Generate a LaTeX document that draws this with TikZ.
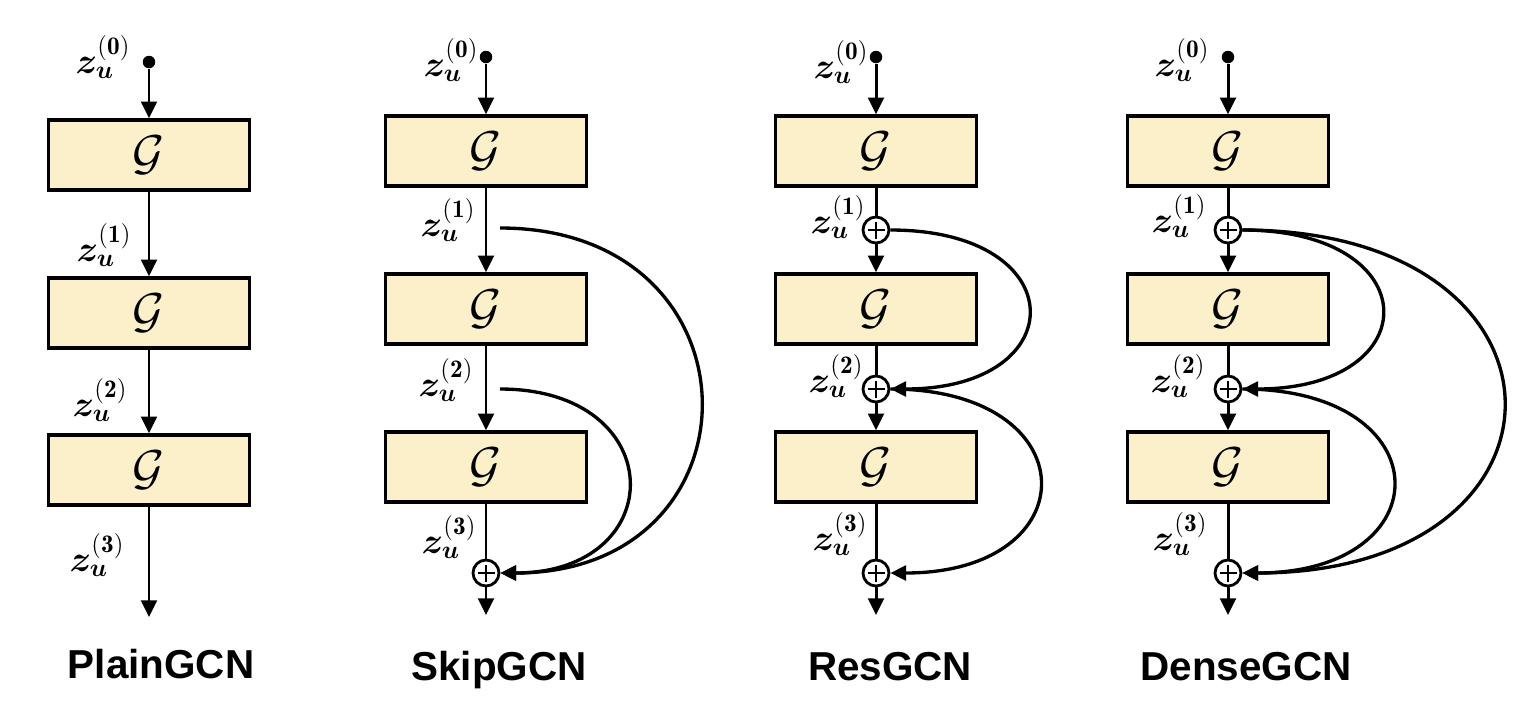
\documentclass[tikz,border=0pt]{standalone}
\usepackage{amsmath}
\usepackage{bm}
\usepackage{graphicx}
\usepackage{fontspec}
\newfontfamily\headfont{Liberation Sans}
\usepackage{tikz}
\usetikzlibrary{arrows.meta}
\definecolor{boxfill}{HTML}{FCF0CA}
\newcommand{\gop}{\scalebox{1.12}{$\mathcal{G}$}}
\newcommand{\zu}[1]{$\bm{z}_{\bm{u}}^{(\mathbf{#1})}$}
\tikzset{
  gbox/.style={draw, line width=2pt, fill=boxfill, minimum width=4.02cm, minimum height=1.40cm, inner sep=0pt, font=\Huge},
  addop/.style={circle, draw, line width=1.6pt, fill=white, minimum size=0.52cm, inner sep=0pt,
    path picture={\draw[line width=1.5pt] ([xshift=-0.17cm]path picture bounding box.center) -- ([xshift=0.17cm]path picture bounding box.center) ([yshift=-0.17cm]path picture bounding box.center) -- ([yshift=0.17cm]path picture bounding box.center);}},
  indot/.style={circle, fill=black, minimum size=0.25cm, inner sep=0pt},
  zlab/.style={inner sep=0pt, font=\huge},
  headlab/.style={anchor=base, inner sep=0pt, font=\headfont\bfseries\fontsize{23}{26}\selectfont},
  plain/.style={line width=1.7pt},
  flow/.style={line width=1.7pt, -{Triangle[length=9.5pt, width=9pt]}},
  jump/.style={line width=1.9pt, -{Triangle[length=9pt, width=8.5pt]}}
}
\begin{document}
\begin{tikzpicture}[x=0.02cm, y=-0.02cm]
\useasboundingbox (0,0) rectangle (1526,704);

\node[indot] (p0) at (149,62) {};
\node[gbox] (p1) at (149,155) {\gop};
\node[gbox] (p2) at (149,313) {\gop};
\node[gbox] (p3) at (149,470) {\gop};
\coordinate (pout) at (149,617);
\draw[flow] (p0) -- (p1);
\draw[flow] (p1) -- (p2);
\draw[flow] (p2) -- (p3);
\draw[flow] (p3) -- (pout);
\node[zlab] (pz0) at (103,57) {\zu{0}};
\node[zlab] (pz1) at (104,245) {\zu{1}};
\node[zlab] (pz2) at (100,400) {\zu{2}};
\node[zlab] (pz3) at (97,555) {\zu{3}};
\node[headlab] (ptitle) at (161,678) {PlainGCN};

\node[indot] (s0) at (486,57) {};
\node[gbox] (s1) at (486,151) {\gop};
\node[gbox] (s2) at (486,309) {\gop};
\node[gbox] (s3) at (486,467) {\gop};
\node[addop] (sadd) at (486,573) {};
\coordinate (sout) at (486,615);
\coordinate (sk1) at (500,228);
\coordinate (sk2) at (500,389);
\draw[flow] (s0) -- (s1);
\draw[flow] (s1) -- (s2);
\draw[flow] (s2) -- (s3);
\draw[plain] (s3) -- (sadd);
\draw[flow] (sadd) -- (sout);
\draw[jump] (sk1) to[out=0, in=0, distance=5.34cm] (sadd.east);
\draw[jump] (sk2) to[out=0, in=0, distance=3.42cm] (sadd.east);
\node[zlab] (sz0) at (451,60) {\zu{0}};
\node[zlab] (sz1) at (448,220) {\zu{1}};
\node[zlab] (sz2) at (446,380) {\zu{2}};
\node[zlab] (sz3) at (449,537) {\zu{3}};
\node[headlab] (stitle) at (499,680) {SkipGCN};

\node[indot] (r0) at (876,57) {};
\node[gbox] (r1) at (876,151) {\gop};
\node[addop] (radd1) at (876,230) {};
\node[gbox] (r2) at (876,309) {\gop};
\node[addop] (radd2) at (876,389) {};
\node[gbox] (r3) at (876,467) {\gop};
\node[addop] (radd3) at (876,573) {};
\coordinate (rout) at (876,615);
\draw[flow] (r0) -- (r1);
\draw[plain] (r1) -- (radd1);
\draw[flow] (radd1) -- (r2);
\draw[plain] (r2) -- (radd2);
\draw[flow] (radd2) -- (r3);
\draw[plain] (r3) -- (radd3);
\draw[flow] (radd3) -- (rout);
\draw[jump] (radd1.east) to[out=0, in=0, distance=3.68cm] (radd2.east);
\draw[jump] (radd2.east) to[out=0, in=0, distance=3.98cm] (radd3.east);
\node[zlab] (rz0) at (841,62) {\zu{0}};
\node[zlab] (rz1) at (838,217) {\zu{1}};
\node[zlab] (rz2) at (836,376) {\zu{2}};
\node[zlab] (rz3) at (840,534) {\zu{3}};
\node[headlab] (rtitle) at (890,680) {ResGCN};

\node[indot] (d0) at (1228,57) {};
\node[gbox] (d1) at (1228,151) {\gop};
\node[addop] (dadd1) at (1228,230) {};
\node[gbox] (d2) at (1228,309) {\gop};
\node[addop] (dadd2) at (1228,389) {};
\node[gbox] (d3) at (1228,467) {\gop};
\node[addop] (dadd3) at (1228,573) {};
\coordinate (dout) at (1228,615);
\draw[flow] (d0) -- (d1);
\draw[plain] (d1) -- (dadd1);
\draw[flow] (dadd1) -- (d2);
\draw[plain] (d2) -- (dadd2);
\draw[flow] (dadd2) -- (d3);
\draw[plain] (d3) -- (dadd3);
\draw[flow] (dadd3) -- (dout);
\draw[jump] (dadd1.east) to[out=0, in=0, distance=3.72cm] (dadd2.east);
\draw[jump] (dadd2.east) to[out=0, in=0, distance=4.02cm] (dadd3.east);
\draw[jump] (dadd1.east) to[out=0, in=0, distance=6.96cm] (dadd3.east);
\node[zlab] (dz0) at (1182,60) {\zu{0}};
\node[zlab] (dz1) at (1179,216) {\zu{1}};
\node[zlab] (dz2) at (1178,376) {\zu{2}};
\node[zlab] (dz3) at (1180,534) {\zu{3}};
\node[headlab] (dtitle) at (1246,680) {DenseGCN};
\end{tikzpicture}
\end{document}
